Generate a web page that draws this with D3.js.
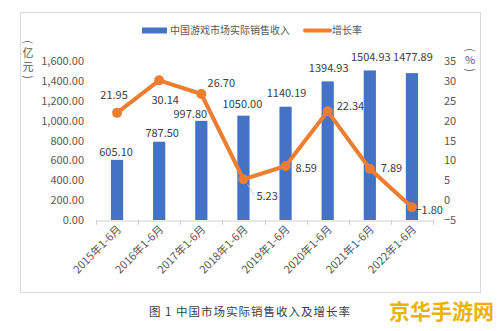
<!DOCTYPE html>
<html><head><meta charset="utf-8">
<script src="https://cdn.jsdelivr.net/npm/d3@7"></script>
<style>
html,body{margin:0;padding:0;background:#fff;}
svg{display:block;font-family:"Noto Sans CJK SC","Noto Sans",sans-serif;}
</style></head>
<body><svg id="c" width="499" height="331"></svg>
<script>
const categories = ["2015年1-6月","2016年1-6月","2017年1-6月","2018年1-6月","2019年1-6月","2020年1-6月","2021年1-6月","2022年1-6月"];
const revenue = [605.10, 787.50, 997.80, 1050.00, 1140.19, 1394.93, 1504.93, 1477.89];
const growth = [21.95, 30.14, 26.70, 5.23, 8.59, 22.34, 7.89, -1.80];
const leftTicks = [0,200,400,600,800,1000,1200,1400,1600];
const rightTicks = [-5,0,5,10,15,20,25,30,35];
const seriesNames = ["中国游戏市场实际销售收入","增长率"];
const leftTitle = ["(","亿","元",")"];
const rightTitle = ["(","%",")"];
const caption = "图 1 中国市场实际销售收入及增长率";
const watermark = "京华手游网";

// label placement (style, not data)
const barLabelOff = [[-1,-8],[3,-9],[-11,-7],[-1,-12],[1,-14],[1,-13],[1,-13],[1,-16]];
const lineLabelOff = [[-3,-18,"middle"],[6,20,"middle"],[20,-11,"middle"],[13,17,"start"],[10,2,"start"],[9,-5,"start"],[11,-1,"start"],[31,3,"end"]];

const svg = d3.select("#c");
const blue = "#4472C4", orange = "#ED7D31";
const txt = "#595959";

svg.append("rect").attr("x",20.5).attr("y",12.5).attr("width",460).attr("height",280)
  .attr("fill","#fff").attr("stroke","#d9d9d9");

const x = d3.scaleBand().domain(categories).range([96,433]).padding(0);
const yL = d3.scaleLinear().domain([0,1600]).range([220,61]);
const yR = d3.scaleLinear().domain([-5,35]).range([220,61]);
const bw = x.bandwidth()*0.29;

// left axis
const la = svg.append("g").attr("transform","translate(84,0)")
  .call(d3.axisLeft(yL).tickValues(leftTicks).tickSize(0).tickPadding(0).tickFormat(d3.format(",.2f")));
la.select(".domain").remove();
la.selectAll("text").attr("fill",txt).attr("font-size",11).attr("font-family","'Noto Sans CJK SC',sans-serif");

// right axis
const ra = svg.append("g").attr("transform","translate(444,0)")
  .call(d3.axisRight(yR).tickValues(rightTicks).tickSize(0).tickPadding(0).tickFormat(d3.format("d")));
ra.select(".domain").remove();
ra.selectAll("text").attr("fill",txt).attr("font-size",11).attr("font-family","'Noto Sans CJK SC',sans-serif");

// bars
svg.selectAll(".bar").data(revenue).join("rect")
  .attr("x",(d,i)=>x(categories[i])+x.bandwidth()/2-bw/2)
  .attr("y",d=>yL(d)).attr("width",bw).attr("height",d=>yL(0)-yL(d)).attr("fill",blue);

// bottom axis
const ba = svg.append("g").attr("transform","translate(0,220.5)")
  .call(d3.axisBottom(x).tickSize(0).tickFormat(""));
ba.select(".domain").attr("stroke","#d0d0d0");
const bounds = categories.map(c=>x(c)).concat([x(categories[categories.length-1])+x.bandwidth()]);
svg.append("g").selectAll("line").data(bounds).join("line")
  .attr("x1",d=>Math.round(d)+0.5).attr("x2",d=>Math.round(d)+0.5).attr("y1",220).attr("y2",225)
  .attr("stroke","#d0d0d0");
svg.append("g").selectAll("text").data(categories).join("text")
  .attr("transform",d=>`translate(${x(d)+x.bandwidth()/2+5},230) rotate(-45)`)
  .attr("text-anchor","end").attr("font-size",11).attr("fill",txt).text(d=>d);

// bar labels
svg.append("g").selectAll("text").data(revenue).join("text")
  .attr("x",(d,i)=>x(categories[i])+x.bandwidth()/2+barLabelOff[i][0])
  .attr("y",(d,i)=>yL(d)+barLabelOff[i][1])
  .attr("dy","0.35em").attr("text-anchor","middle").attr("font-size",11).attr("fill","#404040")
  .text(d=>d3.format(".2f")(d));

// line
const pts = growth.map((g,i)=>[x(categories[i])+x.bandwidth()/2, yR(g)]);
svg.append("path").attr("d",d3.line()(pts)).attr("fill","none").attr("stroke",orange)
  .attr("stroke-width",4).attr("stroke-linejoin","round");
// leader line
[[3,[4,5],[11,16]]].forEach(([i,a,b])=>{
  svg.append("line").attr("x1",pts[i][0]+a[0]).attr("y1",pts[i][1]+a[1])
    .attr("x2",pts[i][0]+b[0]).attr("y2",pts[i][1]+b[1]).attr("stroke","#bfbfbf").attr("stroke-width",0.8);
});
svg.append("g").selectAll("circle").data(pts).join("circle")
  .attr("cx",d=>d[0]).attr("cy",d=>d[1]).attr("r",5).attr("fill",orange);

svg.append("g").selectAll("text").data(growth).join("text")
  .attr("x",(d,i)=>pts[i][0]+lineLabelOff[i][0])
  .attr("y",(d,i)=>pts[i][1]+lineLabelOff[i][1])
  .attr("dy","0.35em").attr("text-anchor",(d,i)=>lineLabelOff[i][2])
  .attr("font-size",11).attr("fill","#404040").text(d=>d3.format(".2f")(d));

// legend
svg.append("rect").attr("x",142).attr("y",27.5).attr("width",25).attr("height",6).attr("fill",blue);
svg.append("text").attr("x",170).attr("y",30.5).attr("dy","0.35em").attr("font-size",10).attr("fill",txt).text(seriesNames[0]);
svg.append("line").attr("x1",305).attr("x2",330).attr("y1",30.5).attr("y2",30.5)
  .attr("stroke",orange).attr("stroke-width",4).attr("stroke-linecap","round");
svg.append("text").attr("x",332).attr("y",30.5).attr("dy","0.35em").attr("font-size",10).attr("fill",txt).text(seriesNames[1]);

// axis titles (vertical, parentheses rotated)
const vt = (cx, chars, ys) => chars.forEach((ch,k)=>{
  const rot = (ch==="("||ch===")") ? 90 : 0;
  svg.append("text").attr("transform",`translate(${cx},${ys[k]}) rotate(${rot})`)
    .attr("dy","0.35em").attr("text-anchor","middle").attr("font-size",11).attr("fill",txt).text(ch);
});
vt(28, leftTitle, [42,53,67,77]);
vt(470, rightTitle, [50,60,70]);

// caption
svg.append("text").attr("x",250).attr("y",312).attr("dy","0.35em").attr("text-anchor","middle")
  .attr("font-size",11.5).attr("letter-spacing",1).attr("fill","#404040").text(caption);
// watermark
svg.append("text").attr("x",494).attr("y",312).attr("dy","0.35em").attr("text-anchor","end")
  .attr("font-size",21).attr("font-weight","bold").attr("fill","#EDB200").text(watermark);
</script></body></html>
